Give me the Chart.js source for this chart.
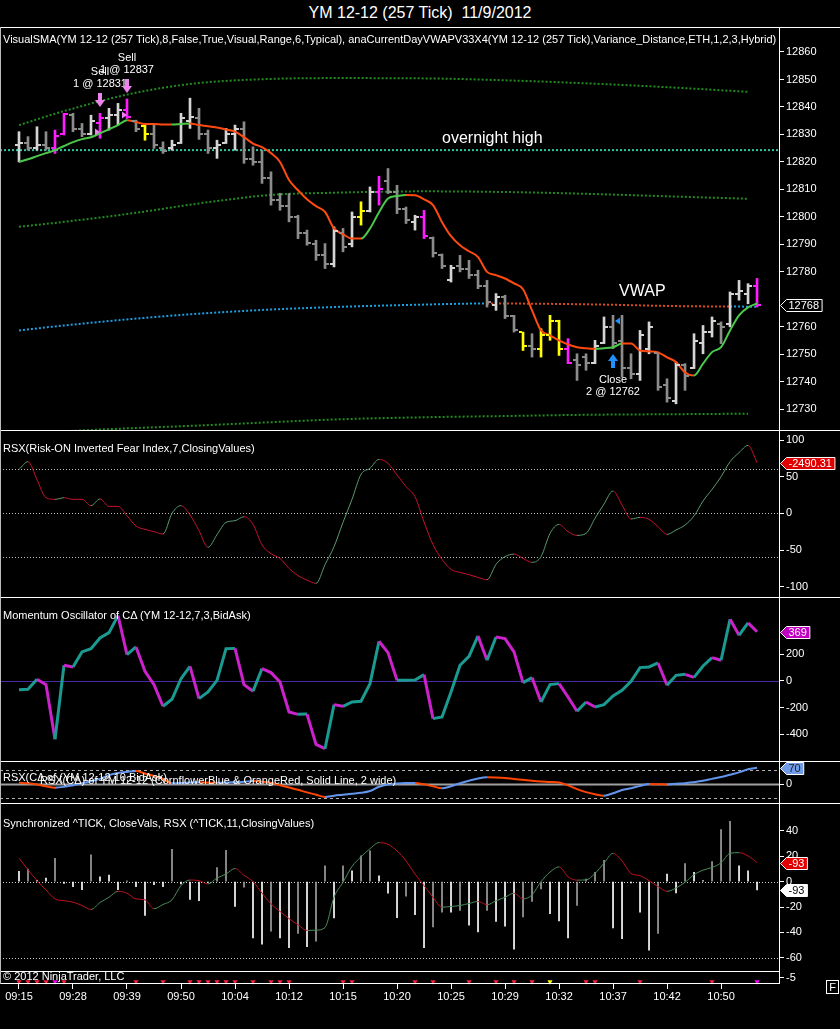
<!DOCTYPE html>
<html>
<head>
<meta charset="utf-8">
<title>YM 12-12 (257 Tick) 11/9/2012</title>
<script src="https://cdn.jsdelivr.net/npm/chart.js@4.4.1/dist/chart.umd.min.js"></script>
<style>
  html, body { margin: 0; padding: 0; background: #000; }
  body { position: relative; width: 840px; height: 1029px; overflow: hidden;
         font-family: "Liberation Sans", Arial, sans-serif; color: #fff; }
  canvas { position: absolute; left: 0; }
  .txt { position: absolute; white-space: nowrap; font-size: 11px; line-height: 13px; z-index: 3; }
  .hl { position: absolute; height: 1px; background: #fff; z-index: 2; }
  .vl { position: absolute; width: 1px; background: #fff; z-index: 2; }
</style>
</head>
<body>
<div class="txt" style="left:0;top:4px;width:840px;text-align:center;font-size:16px;line-height:18px">YM 12-12 (257 Tick)&nbsp; 11/9/2012</div>
<div class="txt" style="left:3px;top:33px">VisualSMA(YM 12-12 (257 Tick),8,False,True,Visual,Range,6,Typical), anaCurrentDayVWAPV33X4(YM 12-12 (257 Tick),Variance_Distance,ETH,1,2,3,Hybrid)</div>
<div class="txt" style="left:3px;top:442px">RSX(Risk-ON Inverted Fear Index,7,ClosingValues)</div>
<div class="txt" style="left:3px;top:609px">Momentum Oscillator of CΔ (YM 12-12,7,3,BidAsk)</div>
<div class="txt" style="left:3px;top:771px">RSX(CΔ of (YM 12-12,10,BidAsk)</div>
<div class="txt" style="left:40px;top:774px">RSX(CΔ) of YM 12-12 (CornflowerBlue &amp; OrangeRed, Solid Line, 2 wide)</div>
<div class="txt" style="left:3px;top:817px">Synchronized ^TICK, CloseVals, RSX (^TICK,11,ClosingValues)</div>
<div class="txt" style="left:3px;top:970px">© 2012 NinjaTrader, LLC</div>
<div class="txt" style="left:826px;top:980px;width:11px;height:12px;line-height:12px;border:1px solid #fff;text-align:center">F</div>

<div class="hl" style="left:0;top:27px;width:840px"></div>
<div class="hl" style="left:0;top:430px;width:840px"></div>
<div class="hl" style="left:0;top:597px;width:840px"></div>
<div class="hl" style="left:0;top:761px;width:840px"></div>
<div class="hl" style="left:0;top:803px;width:840px"></div>
<div class="hl" style="left:0;top:971px;width:780px"></div>
<div class="hl" style="left:0;top:983px;width:780px"></div>
<div class="vl" style="left:779px;top:27px;height:957px"></div>
<div class="vl" style="left:0;top:27px;height:957px;background:#bbb"></div>

<script>
// ---- time axis (one slot per 257-tick bar) ----
const times = ['09:15', '09:28', '09:39', '09:50', '10:04', '10:12', '10:15',
               '10:20', '10:25', '10:29', '10:32', '10:37', '10:42', '10:50'];
const timeTickBars = [0, 6, 12, 18, 24, 30, 36, 42, 48, 54, 60, 66, 72, 78];

// ---- price bars ----
const opens = [12826,12827,12825,12826,12825,12830,12837,12832,12830,12834,
  12836,12837,12839,12835,12833,12830,12825,12825,12827,12835,
  12836,12830,12825,12827,12830,12832,12821,12820,12814,12806,
  12804,12800,12794,12790,12786,12783,12794,12790,12800,12802,
  12809,12813,12809,12803,12798,12800,12792.5,12786,12777,12782,
  12781,12779,12775,12768,12771,12764,12758,12753,12752,12757,
  12762,12752,12748,12749,12747,12754,12760,12755,12745,12743,
  12752,12750.5,12739,12733,12746,12745,12754,12758,12761,12761,
  12772,12772,12775];
const highs = [12831,12829.2,12832.8,12831,12831.6,12837.7,12837.7,12834,12837,12837.7,
  12839.5,12841.3,12842.9,12835.2,12834,12833.4,12827.3,12827.9,12837.7,12843.2,
  12839.5,12831.6,12827.9,12832.2,12833.4,12834.6,12825.5,12824.3,12816.4,12808.6,
  12808.5,12800.6,12795.2,12791.5,12790.3,12796.4,12795.8,12801.8,12805.5,12810.9,
  12814.8,12817.6,12811.5,12803.6,12800.6,12802.4,12792.7,12786.5,12782.4,12786,
  12784.2,12780.6,12776.9,12772.1,12771.5,12764.2,12758.1,12757.5,12759.3,12764.2,
  12762.4,12755.7,12750.2,12750.2,12755.1,12763.6,12764.2,12764.2,12750.2,12758.7,
  12761.8,12750.8,12741.1,12747.2,12746.6,12757.5,12760.5,12763.6,12761.8,12772.7,
  12776.9,12775.7,12777.6];
const lows = [12820,12824.3,12824.3,12824.3,12823.1,12829.8,12831,12829.2,12829.8,12828.6,
  12831.6,12833.4,12835.8,12831,12827.9,12824.9,12823.1,12824.3,12826.7,12832.2,
  12828.2,12823.1,12821.3,12826.7,12824.3,12819.5,12818.8,12812.2,12804.3,12802.4,
  12798.2,12792.1,12789.7,12784.2,12781.2,12781.8,12787.3,12789.1,12797,12801.8,
  12804.3,12808.5,12801.2,12797.6,12795.2,12792.1,12785.4,12781.2,12776.3,12780,
  12777.6,12773.9,12767.2,12766,12763,12758.1,12751.4,12749,12749,12755.1,
  12749.6,12746.6,12740.5,12744.2,12746.6,12753.9,12752.1,12741.7,12741.1,12740.5,
  12750.2,12736.9,12732.6,12732,12736.9,12744.8,12750.2,12756.3,12753.9,12760,
  12769.7,12768.4,12767.2];
const closes = [12827,12825,12826,12825,12829.5,12837.5,12832,12830,12835,12836,
  12837,12839,12836.5,12832,12830,12826,12824,12826,12836,12836.5,
  12830,12825,12826,12830,12832,12821,12820,12814,12806,12804,
  12800,12794,12790.5,12786,12783,12795,12789,12800,12802,12809,
  12810,12809,12803,12799,12800,12793,12787,12782,12781.5,12781,
  12779,12775,12769,12771,12764,12759,12753,12752,12757,12762,
  12752,12747,12746,12747,12753,12760,12754,12745,12743,12757,
  12760,12738,12734,12746,12742,12755,12758,12762,12760,12772,
  12773,12775,12768];
const magentaBars = [4, 5, 9, 12, 40, 45, 61, 82];
const yellowBars = [14, 38, 56, 58, 59, 60];

const sma = [12820.0,12821.0,12822.1,12823.2,12824.3,12825.8,12827.2,12828.3,12829.0,12830.4,
  12831.9,12833.4,12835.2,12834.5,12833.8,12833.8,12833.6,12833.6,12833.8,12834.0,
  12833.4,12833.0,12832.5,12831.8,12831.0,12829.0,12826.7,12825.4,12823.2,12820.0,
  12813.4,12809.7,12806.4,12803.9,12801.8,12795.8,12793.7,12792.1,12792.1,12795.8,
  12801.7,12806.7,12807.6,12808.0,12807.9,12806.4,12804.3,12798.1,12793.0,12789.7,
  12787.5,12785.4,12780.0,12778.8,12777.6,12775.8,12773.7,12766.0,12758.7,12756.9,
  12755.1,12753.6,12752.6,12752.2,12752.0,12752.2,12752.6,12753.9,12753.9,12751.4,
  12751.1,12750.7,12748.9,12747.2,12743.4,12742.3,12746.6,12750.8,12752.6,12758.7,
  12764.2,12767.1,12768.5];

// VWAP and its bands, read at a few bars
const vwapBars = [0, 5, 13, 20, 28, 35, 45, 52, 63, 74, 79, 82];
const vwap = [12758.7, 12760.5, 12763.0, 12764.8, 12766.3, 12767.2, 12768.1, 12768.5, 12768.2, 12767.5, 12767.4, 12767.3];
const vwapBelow = [52, 79];
const bandBars = [0, 5, 13, 20, 28, 35, 45, 55, 63, 72, 81];
const upper2 = [12833.4, 12838.5, 12845.2, 12848.7, 12850.2, 12850.5, 12850.4, 12849.6, 12848.6, 12847.2, 12845.5];
const upper1 = [12796.4, 12798.2, 12801.5, 12804.9, 12808.0, 12808.8, 12809.3, 12809.0, 12808.4, 12807.5, 12806.6];
const lower1 = [12721.0, 12722.0, 12723.2, 12724.1, 12725.3, 12726.3, 12727.1, 12727.6, 12728.0, 12728.2, 12728.4];
const overnightHigh = 12824.3;

const tradeBars = [9, 12, 66];
const tradeNames = ['Sell', 'Sell', 'Close'];
const tradeQty = [1, 1, 2];
const tradePrices = [12831, 12837, 12762];

const priceTicks = [12730, 12740, 12750, 12760, 12780, 12790, 12800, 12810, 12820, 12830, 12840, 12850, 12860];

// ---- lower panels ----
const fearRsx = [60,70.4,46,21.3,19.1,21.3,19.1,19.1,10.5,19.6,
  9.5,9.5,-3.2,-17.3,-21.8,-25,-28.2,0,10.5,-2.3,
  -23.6,-46.3,-29,-12.3,-10,-4.6,-15,-43,-55,-61.4,
  -75,-85,-91,-95.5,-70,-45.5,-12.3,19.1,53.2,61.4,
  73.6,68.2,52.3,36.4,22.7,-11.8,-42.7,-62.7,-76.4,-80.5,
  -83.6,-87.3,-90.5,-69.5,-59,-55.5,-61.4,-66.8,-59,-27.3,
  -15,-25,-30,-27.3,-6.8,12.7,30.5,11.4,-7.7,-5.5,
  -8.2,-18.2,-28.6,-22.7,-15.9,-3.6,16.8,32.7,50,70.4,
  82.7,92.7,69.1];
const fearTicks = [100, 50, 0, -50, -100];
const fearLevels = [60, 0, -60];

const momentum = [-64.7,-62.2,12.7,-27.2,-436.7,117.7,105.2,217.6,242.6,322.6,
  362.5,490,197.6,255,72.6,-27.2,-189.5,-137,17.7,110.2,
  -132,-82.1,5.2,242.6,244,-27.2,-77.1,92.7,62.7,-7.2,
  -232,-250,-248,-474.4,-507,-177,-189.5,-157,-152,-19.7,
  297.5,212.6,5.2,6,8,47.4,-282,-270,-82.1,117.7,
  185,337.5,155,330,317.6,217.6,-12.2,25.2,-157,-27.2,
  -19.7,-119.6,-227,-157,-194.5,-177,-112,-69.7,-2.2,100.2,
  105.2,135.2,-32.2,42.5,50,27.5,112.7,175.1,155,462.4,
  342.6,435,369];
const momTicks = [200, 0, -200, -400];

const deltaRsx = [5,3,-2,-10,-15.7,-12,-5,3,12,22,
  38,47,52,55.8,45,35,22,3,4,6,
  7,6,5,6,8,10,12.9,10,5,-5,
  -15,-25,-36,-46,-55.8,-50,-46,-42,-38,-30,
  -12,-2,2,4,4.5,-1.4,-10,-18.6,-9.4,2.9,
  14.3,24,28.6,28,25.8,21.5,18,14,11,9,
  6,-6,-22,-35,-44,-50,-40,-25.7,-18,-8,
  0,-1,-2,1,3,8,14,22,30,40,
  50,63,70];
const deltaTicks = [0];
const deltaLevels = [60, -60];

const tickHist = [8.1,9.9,1,2.9,18.5,-1.3,-3.9,-6.3,21.1,3.9,
  5.2,-6.3,0.5,-3.9,-26.6,-2.3,-3.9,25.6,-1.8,-14.1,
  -14.9,-0.5,11.2,24.8,-19.6,-4.4,-44.3,-49.3,-39.1,-44.3,
  -52.1,-40.9,-51.3,-46.9,12.5,-28.7,12.5,8.6,20.3,24.3,
  4.7,-9.1,-28.4,-11.5,-26.1,-52.1,-35.7,-24,-24,-22.7,
  -34.4,-39.6,-22.7,-31.3,-35.2,-53.2,-27.9,-15.6,-5.7,-25.3,
  -31,-44.3,-18.8,2,7.3,16.9,-36.5,-44.9,-1,-24,
  -54,-40.9,6,-8.9,14.3,7.3,0.8,15.9,41.2,47.7,
  12.5,8.6,-6.5];
const tickShade = ('wgwwgwwwgwwwwwwwwgwwwwggwgwwgwwgwggwgwggwwwgw' +
                   'wggwgwwgwwwgggwwwggggwwwwwgwwgwwgggwww').split('');
const tickRsx = [18.5,9.5,0.8,-6.5,-13.6,-15,-16.2,-18.8,-21.9,-16.5,
  -12.3,-7.6,-9.1,-13.6,-14.3,-21.4,-18,-14.3,-3.1,1.3,
  0.8,-1.8,2.9,6,10.4,5,0,-9,-17.5,-23.5,
  -29.2,-34,-38.5,-38.3,-36.2,-12.3,-0.5,12,19.6,26,
  30.8,29.5,24.3,16.4,6,-3.1,-12.3,-20.1,-19.6,-18.8,
  -17.2,-15.6,-18.2,-15.1,-12.3,-9.1,-13.6,-10.4,0,7.6,
  11.7,3.9,1.2,1.4,6.5,14.6,22.4,16.4,6.5,4.7,
  0.8,-3.9,-7.6,-5,-0.5,5.5,9.1,11.2,14.9,22.4,
  22.9,20.3,15.1];
const tickTicks = [40, 20, 0, -20, -40, -60];
const tickLevels = [0, -60];

const signalBars = [0, 1, 2, 3, 4, 5, 13, 16, 19, 20, 21, 22, 23, 24, 26, 28, 29, 30, 36, 37,
                    44, 46, 50, 53, 55, 57, 59, 63, 64, 69, 77, 82];
const signalKinds = ['r','r','r','r','m','r','r','r','r','r','r','r','r','r','r','r','r','r','r','r',
                     'r','r','r','r','r','r','y','r','r','r','r','m'];

// ---- setup ----
const FONT = '11px "Liberation Sans", Arial, sans-serif';
Chart.defaults.font.family = '"Liberation Sans", Arial, sans-serif';
Chart.defaults.font.size = 11;
Chart.defaults.color = '#fff';

const X_MIN = -2.11, X_MAX = 84.44;
const UP_BAR = '#d4d4d4', DOWN_BAR = '#8c8c8c';

const barColors = opens.map((o, i) => {
  if (magentaBars.includes(i)) return '#ff1cff';
  if (yellowBars.includes(i)) return '#ffff00';
  return closes[i] >= o ? UP_BAR : DOWN_BAR;
});

function makeCanvas(top, height) {
  const c = document.createElement('canvas');
  c.width = 840; c.height = height;
  c.style.top = top + 'px';
  c.style.width = '840px'; c.style.height = height + 'px';
  document.body.appendChild(c);
  return c;
}

function xAxis() {
  return { type: 'linear', min: X_MIN, max: X_MAX, offset: false, display: false, grid: { display: false } };
}

function yAxis(min, max, ticks) {
  return {
    type: 'linear', position: 'right', min, max,
    grid: { display: true, drawOnChartArea: false, drawTicks: true, tickLength: 5, color: '#fff' },
    border: { display: true, color: '#fff' },
    ticks: { color: '#fff', padding: 2, autoSkip: false, callback: v => String(v) },
    afterBuildTicks: ax => { ax.ticks = ticks.map(v => ({ value: v })); },
    afterFit: ax => { ax.width = 61; ax.paddingTop = 0; ax.paddingBottom = 0; }
  };
}

function options(yMin, yMax, ticks) {
  return {
    responsive: false, maintainAspectRatio: false, animation: false, events: [],
    layout: { padding: 0, autoPadding: false },
    plugins: { legend: { display: false }, tooltip: { enabled: false } },
    scales: { x: xAxis(), y: yAxis(yMin, yMax, ticks) }
  };
}

function series(values, up, down, width, extra) {
  return Object.assign({
    type: 'line',
    data: values.map((v, i) => ({ x: i, y: v })),
    borderWidth: width, pointRadius: 0, tension: 0, borderColor: up,
    segment: { borderColor: c => c.p1.parsed.y > c.p0.parsed.y ? up : down }
  }, extra || {});
}

function dotted(bars, values, color) {
  return {
    type: 'line', data: bars.map((b, i) => ({ x: b, y: values[i] })),
    borderColor: color, borderWidth: 2, borderDash: [2, 2], pointRadius: 0,
    cubicInterpolationMode: 'monotone'
  };
}

function levelsPlugin(levels) {
  return {
    id: 'levels',
    beforeDatasetsDraw(chart) {
      const { ctx, chartArea: a, scales: { y } } = chart;
      ctx.save();
      levels.forEach(l => {
        const py = Math.round(y.getPixelForValue(l.value)) + 0.5;
        ctx.strokeStyle = l.color; ctx.lineWidth = l.width || 1;
        ctx.setLineDash(l.dash || []);
        ctx.beginPath(); ctx.moveTo(a.left, py); ctx.lineTo(a.right, py); ctx.stroke();
      });
      ctx.restore();
    }
  };
}

function drawTag(chart, value, text, fill, color) {
  const { ctx, chartArea, scales: { y } } = chart;
  const cy = Math.round(y.getPixelForValue(value)) + 0.5;
  ctx.save();
  ctx.font = FONT;
  const w = ctx.measureText(text).width + 5;
  const x0 = chartArea.right + 1.5, h = 12;
  ctx.beginPath();
  ctx.moveTo(x0, cy);
  ctx.lineTo(x0 + 6, cy - h / 2);
  ctx.lineTo(x0 + 6 + w, cy - h / 2);
  ctx.lineTo(x0 + 6 + w, cy + h / 2);
  ctx.lineTo(x0 + 6, cy + h / 2);
  ctx.closePath();
  ctx.fillStyle = fill; ctx.fill();
  ctx.strokeStyle = '#fff'; ctx.lineWidth = 1; ctx.stroke();
  ctx.fillStyle = color; ctx.textAlign = 'left'; ctx.textBaseline = 'middle';
  ctx.fillText(text, x0 + 8, cy + 0.5);
  ctx.restore();
}

function tagsPlugin(tags) {
  return { id: 'tags', afterDraw(chart) { tags.forEach(t => drawTag(chart, t.value, t.text, t.fill, t.color)); } };
}

function arrow(ctx, cx, tipY, dir, color) { // dir +1 points down, -1 points up
  ctx.fillStyle = color;
  ctx.fillRect(cx - 2, dir > 0 ? tipY - 14 : tipY + 6, 4, 8);
  ctx.beginPath();
  ctx.moveTo(cx, tipY);
  ctx.lineTo(cx - 5, tipY - dir * 7);
  ctx.lineTo(cx + 5, tipY - dir * 7);
  ctx.closePath(); ctx.fill();
}

function tri(ctx, tipX, tipY, dir, color) { // dir +1 points right, -1 points left
  ctx.fillStyle = color;
  ctx.beginPath();
  ctx.moveTo(tipX, tipY);
  ctx.lineTo(tipX - dir * 5, tipY - 3.5);
  ctx.lineTo(tipX - dir * 5, tipY + 3.5);
  ctx.closePath(); ctx.fill();
}

// price panel extras: open/close ticks, trades, labels
const priceMarks = {
  id: 'priceMarks',
  afterDatasetsDraw(chart) {
    const { ctx, scales: { x, y } } = chart;
    ctx.save();
    opens.forEach((o, i) => {
      const px = Math.round(x.getPixelForValue(i));
      ctx.fillStyle = barColors[i];
      ctx.fillRect(px - 4, Math.round(y.getPixelForValue(o)) - 1, 3, 2);
      ctx.fillRect(px + 1, Math.round(y.getPixelForValue(closes[i])) - 1, 3, 2);
    });
    ctx.font = FONT; ctx.textAlign = 'center'; ctx.textBaseline = 'middle';
    tradeBars.forEach((b, k) => {
      const px = Math.round(x.getPixelForValue(b));
      const py = Math.round(y.getPixelForValue(tradePrices[k]));
      const label = tradeQty[k] + ' @ ' + tradePrices[k];
      if (tradeNames[k] === 'Sell') {
        const tip = Math.round(y.getPixelForValue(highs[b])) - 6;
        arrow(ctx, px, tip, 1, '#ee82ee');
        tri(ctx, px, py, 1, '#ee82ee');
        ctx.fillStyle = '#fff';
        ctx.fillText(label, px, tip - 23);
        ctx.fillText(tradeNames[k], px, tip - 35);
      } else {
        const tip = Math.round(y.getPixelForValue(lows[b])) + 5;
        arrow(ctx, px, tip, -1, '#1e90ff');
        tri(ctx, px + 2, py, -1, '#1e90ff');
        ctx.fillStyle = '#fff';
        ctx.fillText(tradeNames[k], px, tip + 26);
        ctx.fillText(label, px, tip + 38);
      }
    });
    ctx.font = '16px "Liberation Sans", Arial, sans-serif';
    ctx.textAlign = 'left';
    ctx.fillStyle = '#fff';
    ctx.fillText('overnight high', x.getPixelForValue(47), y.getPixelForValue(overnightHigh) - 12);
    ctx.fillText('VWAP', x.getPixelForValue(66) + 6, y.getPixelForValue(vwap[8]) - 13);
    ctx.restore();
  }
};

// ---- price panel ----
new Chart(makeCanvas(28, 402), {
  type: 'line',
  data: {
    datasets: [
      series(sma, '#4cc94c', '#ff4a10', 2, { cubicInterpolationMode: 'monotone' }),
      {
        type: 'bar',
        data: highs.map((h, i) => ({ x: i, y: [lows[i], h] })),
        backgroundColor: barColors, barThickness: 2, borderWidth: 0, grouped: false
      },
      Object.assign(dotted(vwapBars, vwap, '#1a9fe0'), {
        segment: { borderColor: c => (c.p0.parsed.x >= vwapBelow[0] && c.p0.parsed.x < vwapBelow[1]) ? '#d8481c' : '#1a9fe0' }
      }),
      dotted(bandBars, upper2, '#228b22'),
      dotted(bandBars, upper1, '#228b22'),
      dotted(bandBars, lower1, '#228b22'),
      {
        type: 'line', data: [{ x: X_MIN, y: overnightHigh }, { x: X_MAX, y: overnightHigh }],
        borderColor: '#2ec8a0', borderWidth: 2, borderDash: [2, 2], pointRadius: 0
      }
    ]
  },
  options: options(12722.47, 12868.73, priceTicks),
  plugins: [priceMarks, tagsPlugin([{ value: closes[closes.length - 1], text: '12768', fill: '#000', color: '#fff' }])]
});

// ---- RSX of fear index ----
new Chart(makeCanvas(431, 166), {
  type: 'line',
  data: { datasets: [series(fearRsx, '#5a9a70', '#c8102e', 1, { cubicInterpolationMode: 'monotone' })] },
  options: options(-114.04, 112.27, fearTicks),
  plugins: [
    levelsPlugin(fearLevels.map(v => ({ value: v, color: '#b8b8b8', dash: [1, 2] }))),
    tagsPlugin([{ value: fearRsx[fearRsx.length - 1], text: '-2490.31', fill: '#e00000', color: '#fff' }])
  ]
});

// ---- momentum oscillator ----
new Chart(makeCanvas(598, 163), {
  type: 'line',
  data: { datasets: [series(momentum, '#1a9a90', '#cc22cc', 3)] },
  options: options(-599.3, 621.7, momTicks),
  plugins: [
    levelsPlugin([{ value: 0, color: '#4b2aa8' }]),
    tagsPlugin([{ value: momentum[momentum.length - 1], text: '369', fill: '#c000c0', color: '#fff' }])
  ]
});

// ---- RSX of delta ----
new Chart(makeCanvas(762, 41), {
  type: 'line',
  data: { datasets: [series(deltaRsx, '#6495ed', '#ff4500', 2, { cubicInterpolationMode: 'monotone' })] },
  options: options(-81.5, 94.4, deltaTicks),
  plugins: [
    levelsPlugin(deltaLevels.map(v => ({ value: v, color: '#b0b0b0', dash: [3, 3] }))
      .concat([{ value: 0, color: '#a0a0a0', width: 2 }])),
    tagsPlugin([{ value: deltaRsx[deltaRsx.length - 1], text: '70', fill: '#6f9be8', color: '#222' }])
  ]
});

// ---- synchronized TICK ----
new Chart(makeCanvas(804, 167), {
  type: 'line',
  data: {
    datasets: [
      series(tickRsx, '#4c8c5c', '#c01020', 1, { cubicInterpolationMode: 'monotone' }),
      {
        type: 'bar', data: tickHist.map((v, i) => ({ x: i, y: v })),
        backgroundColor: tickShade.map(s => s === 'w' ? '#ffffff' : '#a0a0a0'),
        barThickness: 1, borderWidth: 0, grouped: false
      }
    ]
  },
  options: options(-70.5, 61.3, tickTicks),
  plugins: [
    levelsPlugin(tickLevels.map(v => ({ value: v, color: '#d0d0d0', dash: [1, 2] }))),
    tagsPlugin([
      { value: tickRsx[tickRsx.length - 1], text: '-93', fill: '#e00000', color: '#fff' },
      { value: tickHist[tickHist.length - 1], text: '-93', fill: '#fff', color: '#000' }
    ])
  ]
});

// ---- signal strip + time axis ----
const stripOpts = options(-10, 0, [-5]);
stripOpts.scales.x = {
  type: 'linear', min: X_MIN, max: X_MAX, offset: false, display: true, position: 'bottom',
  grid: { display: true, drawOnChartArea: false, drawTicks: true, tickLength: 6, color: '#fff' },
  border: { display: true, color: '#fff' },
  ticks: { color: '#fff', padding: 1, autoSkip: false, maxRotation: 0, callback: (v, i) => times[i] },
  afterBuildTicks: ax => { ax.ticks = timeTickBars.map(v => ({ value: v })); },
  afterFit: ax => { ax.height = 46; ax.paddingLeft = 0; ax.paddingRight = 0; }
};
const kindColor = { r: '#ff2040', m: '#ff00ff', y: '#ffff00' };
new Chart(makeCanvas(972, 57), {
  type: 'line',
  data: {
    datasets: [{
      type: 'line', showLine: false, clip: false,
      data: signalBars.map(b => ({ x: b, y: -8.8 })),
      pointStyle: 'triangle', rotation: 180, pointRadius: 3, borderWidth: 0,
      pointBackgroundColor: signalKinds.map(k => kindColor[k])
    }]
  },
  options: stripOpts
});
</script>
</body>
</html>
